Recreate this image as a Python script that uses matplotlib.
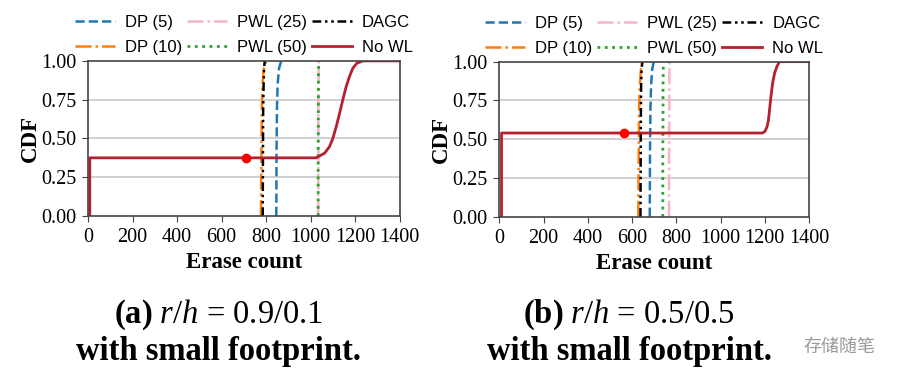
import matplotlib
matplotlib.use("Agg")
import matplotlib.pyplot as plt

plt.rcParams['font.family'] = ['Liberation Serif', 'DejaVu Serif']
plt.rcParams['mathtext.fontset'] = 'custom'
plt.rcParams['mathtext.rm'] = 'Liberation Serif'
plt.rcParams['mathtext.it'] = 'Liberation Serif:italic'
plt.rcParams['mathtext.bf'] = 'Liberation Serif:bold'

# ---- panel (a): r/h = 0.9/0.1 ----
nowl_a_x = [8, 8, 1025, 1063, 1085, 1100, 1115, 1130, 1145, 1160, 1175, 1190, 1208, 1235, 1400]
nowl_a_y = [0, 0.375, 0.375, 0.405, 0.447, 0.5, 0.575, 0.66, 0.75, 0.835, 0.9, 0.953, 0.985, 1.0, 1.0]
dp5_a_x = [846, 847, 849, 852, 858, 868]
dp10_a_x = [777, 779, 781, 784, 790, 800]
dagc_a_x = [785, 786, 787, 789, 791, 794]
pwl25_a_x = [1034, 1035, 1035, 1036, 1036, 1037]
pwl50_a_x = [1034, 1034, 1035, 1035, 1036, 1036]
dot_a = (710, 0.375)

# ---- panel (b): r/h = 0.5/0.5 ----
nowl_b_x = [10, 10, 1190, 1200, 1210, 1216, 1222, 1228, 1236, 1245, 1255, 1266, 1400]
nowl_b_y = [0, 0.54, 0.54, 0.55, 0.58, 0.62, 0.70, 0.78, 0.87, 0.93, 0.97, 1.0, 1.0]
dp5_b_x = [680, 681, 683, 686, 691, 698]
dp10_b_x = [628, 630, 632, 635, 640, 648]
dagc_b_x = [638, 639, 640, 641, 643, 646]
pwl25_b_x = [767, 767, 768, 768, 769, 770]
pwl50_b_x = [739, 739, 740, 740, 741, 741]
dot_b = (565, 0.54)

cdf_y = [0, 0.4, 0.7, 0.85, 0.95, 1.0]

labels = ['DP (5)', 'DP (10)', 'PWL (25)', 'PWL (50)', 'DAGC', 'No WL']
captions = [r'$\mathbf{(a)}\ r/h$ = 0.9/0.1', r'$\mathbf{(b)}\ r/h$ = 0.5/0.5']

fig = plt.figure(figsize=(8.98, 3.83), dpi=100)
ax_a = fig.add_axes([0.098, 0.436, 0.347, 0.405])
ax_b = fig.add_axes([0.556, 0.434, 0.345, 0.405])

panels = [
    (ax_a, dp5_a_x, dp10_a_x, pwl25_a_x, pwl50_a_x, dagc_a_x, nowl_a_x, nowl_a_y, dot_a),
    (ax_b, dp5_b_x, dp10_b_x, pwl25_b_x, pwl50_b_x, dagc_b_x, nowl_b_x, nowl_b_y, dot_b),
]

for i, (ax, dp5, dp10, p25, p50, dagc, nx, ny, dot) in enumerate(panels):
    ax.set_axisbelow(True)
    for gy in [0.25, 0.5, 0.75]:
        ax.axhline(gy, color='#c4c4c4', lw=1.1, zorder=0)
    h1, = ax.plot(dp5, cdf_y, '--', color='#1f77b4', lw=1.8)
    h2, = ax.plot(dp10, cdf_y, '-.', color='#ff7f0e', lw=1.8)
    h3, = ax.plot(p25, cdf_y, '-.', color='#f7b6c6', lw=1.8)
    h4, = ax.plot(p50, cdf_y, ':', color='#2ca02c', lw=2.0)
    h5, = ax.plot(dagc, cdf_y, color='black', lw=1.8, linestyle=(0, (3.5, 1.5, 1, 1.5, 1, 1.5)))
    h6, = ax.plot(nx, ny, '-', color='#b5202e', lw=2.0)
    ax.plot([dot[0]], [dot[1]], 'o', color='red', markersize=6, zorder=5)

    ax.set_xlim(0, 1400)
    ax.set_ylim(0, 1.0)
    ax.set_xticks(range(0, 1401, 200))
    ax.set_yticks([0, 0.25, 0.5, 0.75, 1.0])
    ax.set_yticklabels(['0.00', '0.25', '0.50', '0.75', '1.00'])
    ax.tick_params(labelsize=14.5, length=4.5, color='#444444', pad=4)
    for s in ax.spines.values():
        s.set_color('#444444')
        s.set_linewidth(1.2)
    ax.set_xlabel('Erase count', fontsize=16.5, fontweight='bold', labelpad=4)
    ax.set_ylabel('CDF', fontsize=16.5, fontweight='bold', labelpad=0)

    leg = ax.legend([h1, h2, h3, h4, h5, h6], labels, loc='lower center',
                    bbox_to_anchor=(0.5, 1.015), ncol=3, frameon=False,
                    prop={'family': 'Liberation Sans', 'size': 12},
                    handlelength=2.4, handletextpad=0.6, columnspacing=0.3,
                    labelspacing=0.6, borderaxespad=0.0, borderpad=0.2)

    cx = ax.get_position().x0 + ax.get_position().width / 2 - 0.028
    fig.text(cx, 0.177, captions[i], ha='center', va='center', fontsize=23.5)
    fig.text(cx, 0.083, 'with small footprint.', ha='center', va='center',
             fontsize=23.5, fontweight='bold')

fig.text(0.975, 0.095, '存储随笔', ha='right', va='center', fontsize=13,
         color='#9a9a9a', family=['Noto Sans CJK SC', 'DejaVu Sans'])

fig.savefig('out.png', dpi=100)
